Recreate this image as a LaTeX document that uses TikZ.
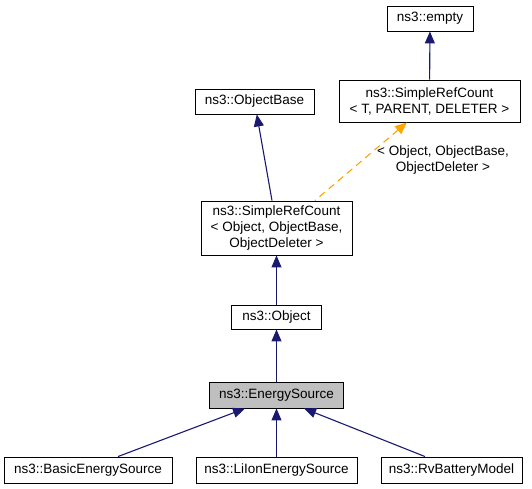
\documentclass[tikz,border=0pt]{standalone}
\usepackage{fontspec}
\setmainfont{Liberation Sans}
\usetikzlibrary{arrows.meta,positioning}
\definecolor{edgeblue}{HTML}{191970}
\definecolor{tmplorange}{HTML}{FFA500}
\definecolor{curgray}{HTML}{BFBFBF}

\begin{document}
\begin{tikzpicture}[
    x = 1pt, y = -1pt, % pixel grid, y down
    font = \fontsize{13.5}{16}\selectfont,
    inherit/.style = {draw = edgeblue, line width = 1.1pt,
      {Triangle[length=12pt,width=10pt,fill=edgeblue]}-}, % arrow head at parent
    tmpl/.style = {draw = tmplorange, line width = 1.1pt, dash pattern = on 7pt off 5pt,
      {Triangle[length=12pt,width=10pt,fill=tmplorange]}-}
    ]

    \tikzset{box/.style={
    draw = black,
    fill = white,
    line width = 0.9pt,
    inner sep = 0pt,
    align = center,
    minimum height = 25pt
    }}
    \useasboundingbox (0,0) rectangle (532,489);

    \node[box, minimum width=86pt] (empty) at (430,18.5) {ns3::empty};
    \node[box, minimum width=181pt, minimum height=42pt] (srcT) at (429.5,101)
      {ns3::SimpleRefCount\\{}< T, PARENT, DELETER >};
    \node[box, minimum width=119pt] (objbase) at (254.5,101.5) {ns3::ObjectBase};
    \node[box, minimum width=151pt, minimum height=54pt] (srcObj) at (276.5,228)
      {ns3::SimpleRefCount\\{}< Object, ObjectBase,\\ObjectDeleter >};
    \node[box, minimum width=90pt, minimum height=24pt] (object) at (276.5,317) {ns3::Object};
    \node[box, fill=curgray, minimum width=134pt, minimum height=26pt] (esrc) at (276.5,395)
      {ns3::EnergySource};
    \node[box, minimum width=168pt, minimum height=26pt] (basic) at (88,470) {ns3::BasicEnergySource};
    \node[box, minimum width=161pt, minimum height=26pt] (liion) at (276.5,470) {ns3::LiIonEnergySource};
    \node[box, minimum width=141pt, minimum height=26pt] (rv) at (451.5,470) {ns3::RvBatteryModel};
    \node[align=center] (tmplarg) at (443,160) {< Object, ObjectBase,\\ObjectDeleter >};

    \draw[inherit] (empty) -- (srcT);
    \draw[inherit] (objbase) -- ([xshift=-4.5pt]srcObj.north);
    \draw[tmpl] ([xshift=-22.5pt]srcT.south) -- ([xshift=38.5pt]srcObj.north);
    \draw[inherit] (srcObj.south) -- (object.north);
    \draw[inherit] (object.south) -- (esrc.north);
    \draw[inherit] ([xshift=-31.5pt]esrc.south) -- ([xshift=30pt]basic.north);
    \draw[inherit] (esrc.south) -- (liion.north);
    \draw[inherit] ([xshift=27.5pt]esrc.south) -- ([xshift=-26.5pt]rv.north);
\end{tikzpicture}
\end{document}
